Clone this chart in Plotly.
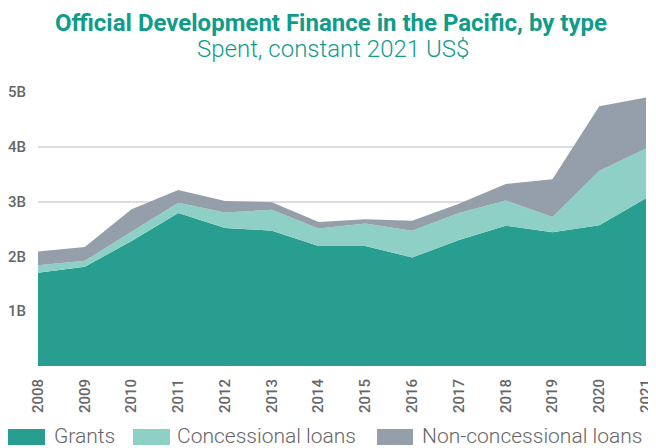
import plotly.graph_objects as go

years = list(range(2008, 2022))
grants = [1.70, 1.81, 2.28, 2.79, 2.52, 2.47, 2.19, 2.19, 1.98, 2.30, 2.56, 2.44, 2.57, 3.06]
concessional = [0.14, 0.11, 0.17, 0.19, 0.28, 0.38, 0.32, 0.41, 0.49, 0.49, 0.46, 0.28, 0.99, 0.91]
non_concessional = [0.25, 0.25, 0.41, 0.23, 0.21, 0.14, 0.12, 0.08, 0.18, 0.17, 0.30, 0.69, 1.18, 0.93]
series_names = ["Grants", "Concessional loans", "Non-concessional loans"]
colors = ["#279e90", "#8fd0c6", "#949fa9"]
y_ticks = [1, 2, 3, 4, 5]
y_tick_labels = ["1B", "2B", "3B", "4B", "5B"]

# the page body adds an 8px margin, so the figure is drawn 8px in from the window corner
OFF = 8
W, H = 656 - OFF, 448 - OFF
ML, MR, MT, MB = 38 - OFF, 10, 92 - OFF, 82
PW, PH = W - ML - MR, H - MT - MB


def px_x(x):
    return (x - OFF - ML) / PW


def px_y(y):
    return (H - MB - (y - OFF)) / PH


fig = go.Figure()
for name, vals, c in zip(series_names, [grants, concessional, non_concessional], colors):
    fig.add_trace(go.Scatter(x=years, y=vals, name=name, stackgroup="one", mode="lines",
                             line=dict(width=0, color=c), fillcolor=c, showlegend=False))

# manual legend (symbol rectangles + labels), in window pixel positions
legend_sym_x = [(8, 45), (133, 170), (377, 413)]
legend_txt_x = [52, 175, 420]
shapes = []
annotations = []
for (x0, x1), tx, name, c in zip(legend_sym_x, legend_txt_x, series_names, colors):
    shapes.append(dict(type="rect", xref="paper", yref="paper", x0=px_x(x0), x1=px_x(x1),
                       y0=px_y(445), y1=px_y(429), fillcolor=c, line=dict(width=0), layer="above"))
    annotations.append(dict(text=name, xref="paper", yref="paper", x=px_x(tx), y=px_y(436),
                            xanchor="left", yanchor="middle", showarrow=False,
                            font=dict(size=21, family="Roboto", weight=300, color="#666666")))

annotations += [
    dict(text="<b>Official Development Finance in the Pacific, by type</b>", xref="paper", yref="paper",
         x=px_x(331), y=px_y(23), xanchor="center", yanchor="middle", showarrow=False,
         font=dict(size=24, color="#109c8b", family="Roboto")),
    dict(text="Spent, constant 2021 US$", xref="paper", yref="paper",
         x=px_x(333), y=px_y(49), xanchor="center", yanchor="middle", showarrow=False,
         font=dict(size=24, color="#109c8b", family="Roboto", weight=300)),
]

fig.update_layout(
    width=W, height=H,
    margin=dict(l=ML, r=MR, t=MT, b=MB),
    paper_bgcolor="white", plot_bgcolor="white",
    font=dict(family="Roboto", color="#666666"),
    showlegend=False,
    xaxis=dict(range=[2008, 2021], tickvals=years, tickangle=-90, showgrid=False, automargin=False,
               zeroline=False, showline=False, ticks="outside", ticklen=6, tickcolor="rgba(0,0,0,0)",
               tickfont=dict(size=15, family="Roboto", weight=500, color="#666666")),
    yaxis=dict(range=[0, 5], tickvals=y_ticks, ticktext=y_tick_labels, showgrid=True, automargin=False,
               gridcolor="#dddddd", gridwidth=1.5, zeroline=False, showline=False,
               ticks="outside", ticklen=8, tickcolor="rgba(0,0,0,0)",
               tickfont=dict(size=15, family="Roboto", weight=500, color="#666666")),
    shapes=shapes,
    annotations=annotations,
)

fig.write_html("out.html")
